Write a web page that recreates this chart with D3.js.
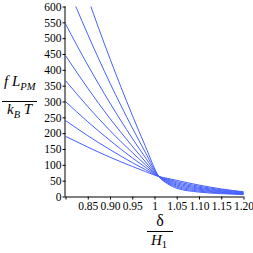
<!DOCTYPE html>
<html>
<head>
<meta charset="utf-8">
<script src="https://cdn.jsdelivr.net/npm/d3@7"></script>
<style>
  html, body { margin: 0; padding: 0; background: #fff; }
  svg { display: block; }
</style>
</head>
<body>
<svg id="chart" width="253" height="253"></svg>
<script>
// ---- data ----
const xValues = [0.80, 0.85, 0.90, 0.95, 0.98, 1.01, 1.03, 1.05, 1.10, 1.15, 1.20];
const series1 = [190, 156, 124, 95, 78.5, 63, 57, 51, 36, 24, 15];
const series2 = [240, 192, 148, 107, 84.5, 63, 54.5, 47, 32.5, 21.5, 13.5];
const series3 = [300, 236, 177, 122, 91.8, 63, 52, 43.5, 29, 19, 12];
const series4 = [366, 284, 208, 139, 99.8, 63, 49.5, 40, 26, 17, 10.8];
const series5 = [445, 342, 246, 159, 109, 63, 47, 36.5, 23, 15, 9.6];
const series6 = [545, 415, 295, 184, 122, 63, 44.5, 33, 20, 13, 8.4];
const series7 = [678, 512, 358, 217, 138, 63, 42, 29.5, 17, 11, 7.2];
const series8 = [836, 628, 435, 257, 157, 63, 39.5, 26, 14, 9, 6];
const allSeries = [series1, series2, series3, series4, series5, series6, series7, series8];
const xTicks = [0.80, 0.85, 0.90, 0.95, 1.00, 1.05, 1.10, 1.15, 1.20];
const xTickLabels = ["", "0.85", "0.90", "0.95", "1", "1.05", "1.10", "1.15", "1.20"];
const yTicks = [0, 50, 100, 150, 200, 250, 300, 350, 400, 450, 500, 550, 600];

const SERIF = '"Liberation Serif", "Times New Roman", serif';

// ---- layout ----
const svg = d3.select("#chart");
const x = d3.scaleLinear().domain([0.8, 1.2]).range([65.5, 243.5]);
const y = d3.scaleLinear().domain([0, 600]).range([196.5, 6.5]);

svg.append("defs").append("clipPath").attr("id", "plotclip")
  .append("rect").attr("x", x(0.8)).attr("y", y(600))
  .attr("width", x(1.2) - x(0.8) + 1).attr("height", y(0) - y(600));

const line = d3.line()
  .x((d, i) => x(xValues[i]))
  .y(d => y(d))
  .curve(d3.curveMonotoneX);

svg.append("g").attr("clip-path", "url(#plotclip)")
  .selectAll("path").data(allSeries).join("path")
  .attr("d", d => line(d))
  .attr("fill", "none")
  .attr("stroke", "#4660ff")
  .attr("stroke-width", 1);

// axes
const xAxis = d3.axisBottom(x).tickValues(xTicks)
  .tickFormat((d, i) => xTickLabels[i]).tickSize(3).tickPadding(2);
const gx = svg.append("g").attr("transform", `translate(0,${y(0)})`).call(xAxis);
const yAxis = d3.axisLeft(y).tickValues(yTicks).tickSize(3).tickPadding(1);
const gy = svg.append("g").attr("transform", `translate(${x(0.8)},0)`).call(yAxis);
[gx, gy].forEach(g => {
  g.attr("font-family", null).attr("font-size", null);
  g.select(".domain").attr("stroke", "#000").attr("stroke-width", 1);
  g.selectAll(".tick line").attr("stroke", "#000");
  g.selectAll(".tick text").style("font-family", SERIF)
    .style("font-size", "11.5px").attr("fill", "#000");
});
gx.select(".domain").attr("d", `M${x(0.8)},0.5H${x(1.2)}`);
gy.select(".domain").attr("d", `M-0.5,${y(0)}V${y(600)}`);

// y label: f L_PM / k_B T
const yl = svg.append("g").style("font-family", SERIF);
const num = yl.append("text").attr("x", 4).attr("y", 86).style("font-size", "15px").style("font-style", "italic");
num.append("tspan").text("f L");
num.append("tspan").style("font-size", "10.5px").attr("dy", 4).text("PM");
yl.append("line").attr("x1", 2).attr("x2", 37).attr("y1", 101.5).attr("y2", 101.5)
  .attr("stroke", "#000").attr("stroke-width", 1);
const den = yl.append("text").attr("x", 7).attr("y", 114).style("font-size", "15px").style("font-style", "italic");
den.append("tspan").text("k");
den.append("tspan").style("font-size", "10.5px").attr("dy", 4).text("B");
den.append("tspan").attr("dy", -4).text(" T");

// x label: δ / H_1
const xl = svg.append("g").style("font-family", SERIF);
xl.append("text").attr("x", 160).attr("y", 226).attr("text-anchor", "middle")
  .style("font-size", "16px").text("δ");
xl.append("line").attr("x1", 147).attr("x2", 173).attr("y1", 231.5).attr("y2", 231.5)
  .attr("stroke", "#000").attr("stroke-width", 1);
const h = xl.append("text").attr("x", 151).attr("y", 245).style("font-size", "15px").style("font-style", "italic");
h.append("tspan").text("H");
h.append("tspan").style("font-size", "10.5px").style("font-style", "normal").attr("dy", 3).text("1");
</script>
</body>
</html>
